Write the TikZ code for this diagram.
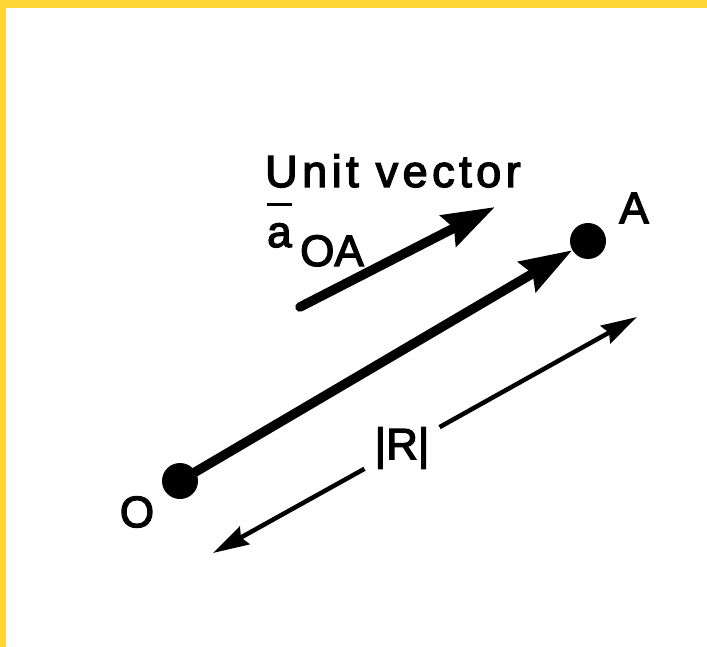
\documentclass[tikz,border=0pt]{standalone}
\usepackage{fontspec}
\setmainfont[FakeBold=3, AutoFakeBold=3]{Liberation Sans}
\newfontfamily\widefont[LetterSpace=10, FakeBold=3]{Liberation Sans}
\usetikzlibrary{arrows.meta}
\definecolor{frameyellow}{RGB}{255,214,51}

\begin{document}
\begin{tikzpicture}[
        x=1pt, y=-1pt,
        every node/.style={font=\fontsize{44}{50}\selectfont\bfseries, inner sep=0pt},
        dot/.style={circle, fill=black, minimum size=36pt},
        heavy/.style={line width=9.5pt, line cap=round, -{Stealth[length=52pt, width=34pt, inset=6pt]}},
        light/.style={line width=4.5pt, -{Stealth[length=36pt, width=20pt, inset=4pt]}}
    ]
        % Moldura
        \fill[frameyellow] (0,0) rectangle (707,647);
        \fill[white] (6,8) rectangle (707,647);

        % Pontos
        \node[dot] (O) at (180,481) {};
        \node[dot] (A) at (588,241) {};
        \node (o) at (137,512) {O};
        \node (a) at (634,208) {A};

        % Vetor unitario
        \node[anchor=base west, font=\fontsize{45}{50}\widefont] (unit) at (265,187) {Unit vector};
        \node[anchor=base west] (abar) at (267,247) {\vbox{\hrule height 3.5pt\kern 17pt\hbox{a}}};
        \node[anchor=base west] (sub) at (300,266) {OA};
        \coordinate (u1) at (300,307);
        \coordinate (u2) at (495,207);
        \draw[heavy] (u1) -- (u2);

        % Vetor R
        \draw[heavy] (O.center) -- (A);

        % Modulo
        \node[inner sep=10pt] (R) at (402,448) {|R|};
        \coordinate (r1) at (213,553);
        \coordinate (r2) at (637,317);
        \draw[light] (R) -- (r1);
        \draw[light] (R) -- (r2);
\end{tikzpicture}
\end{document}
